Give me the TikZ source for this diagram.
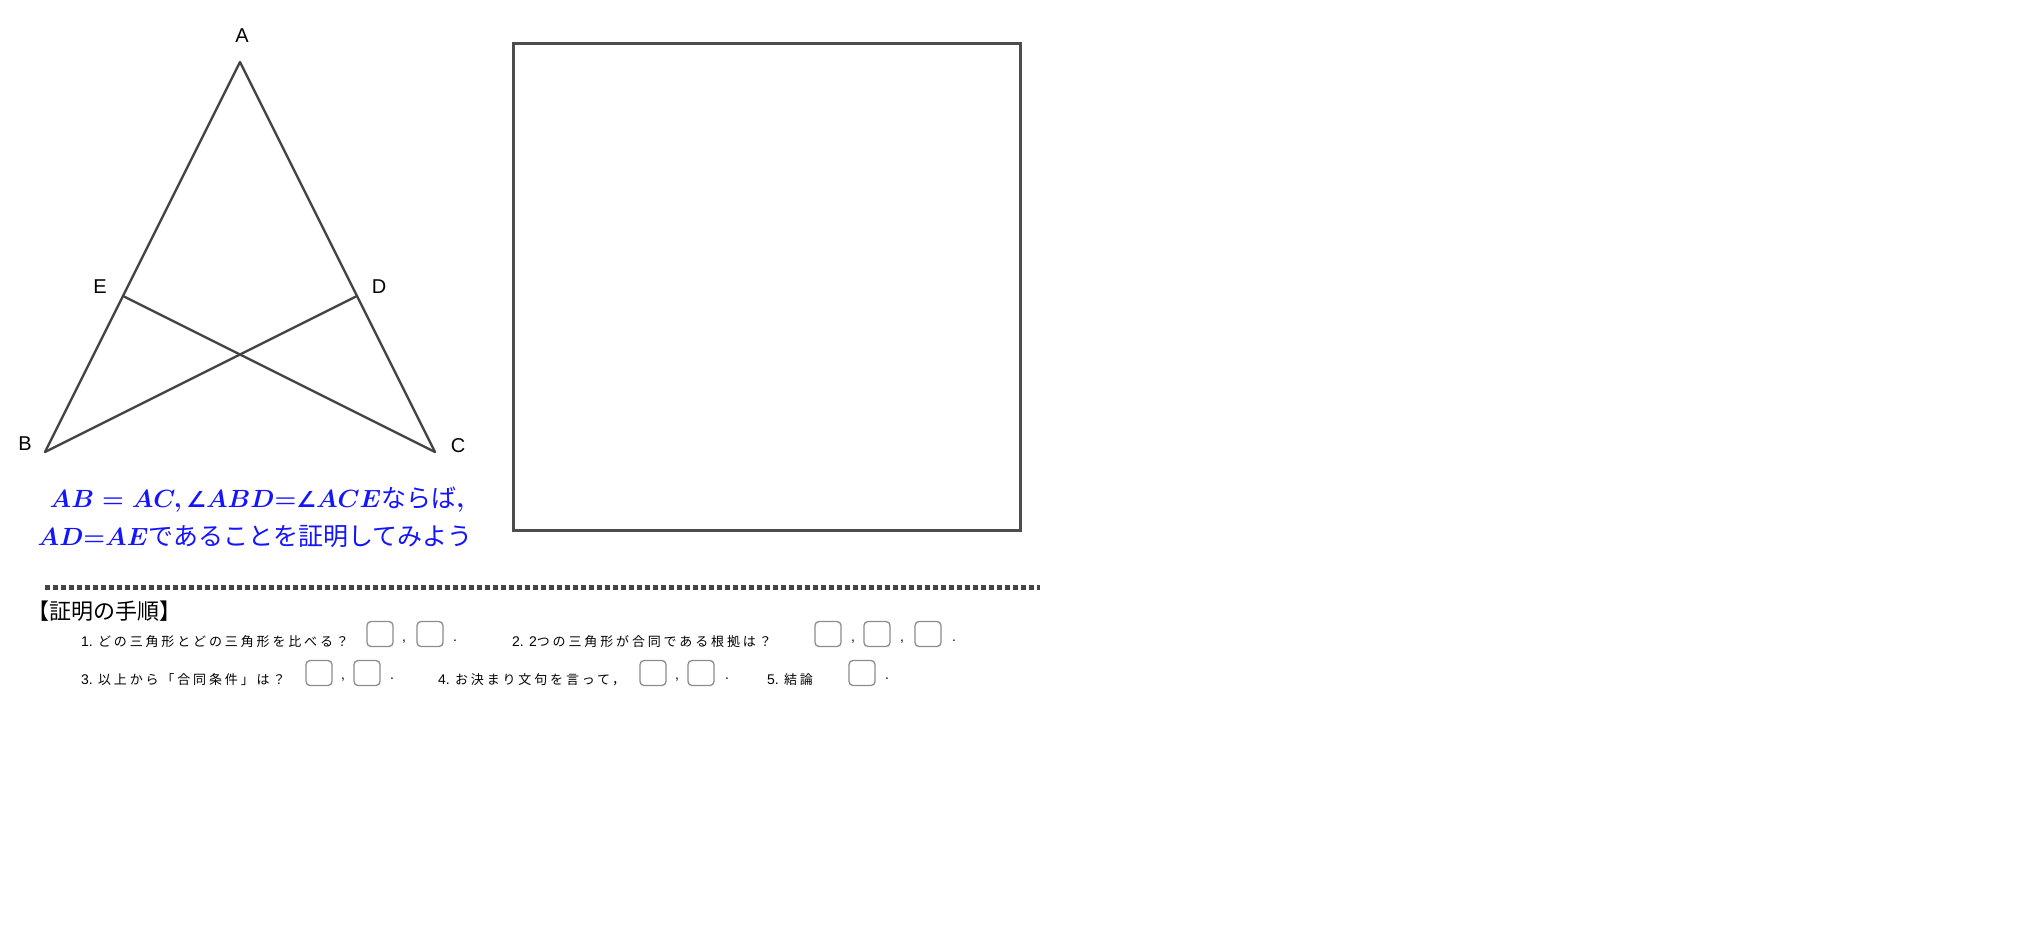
\documentclass[tikz,border=0pt]{standalone}
\usepackage{fontspec}
\usepackage{amsmath}
\setmainfont{Liberation Sans}
\newfontfamily\jpfont{Noto Sans CJK JP}
\newfontfamily\jprow{Noto Sans CJK JP}[LetterSpace=22]
\newfontfamily\symfont{DejaVu Sans}
\newcommand{\angsym}{{\symfont\bfseries ∠}}
\definecolor{probblue}{RGB}{20,20,255}
\definecolor{linegray}{RGB}{68,68,68}
\definecolor{boxgray}{RGB}{140,140,140}

\begin{document}
\begin{tikzpicture}[x=1pt,y=-1pt,
  % figure
  seg/.style={draw=linegray, line width=2.4pt, line join=round, line cap=round},
  ptlabel/.style={font=\fontsize{20}{24}\selectfont, inner sep=0pt},
  frame/.style={draw=linegray!95, line width=3pt},
  goal/.style={text=probblue, anchor=base, inner sep=0pt, font=\fontsize{27}{30}\selectfont},
  % answer sheet
  cutline/.style={draw=linegray, line width=5pt, dash pattern=on 5pt off 3pt},
  rowtext/.style={anchor=base west, inner sep=0pt, font=\fontsize{14}{16}\selectfont},
  ansbox/.style={draw=boxgray, line width=1.3pt, rounded corners=4pt,
    minimum width=26pt, minimum height=25pt, inner sep=0pt}
  ]
  \useasboundingbox (0,0) rectangle (2021,932);

  \coordinate (A) at (240,62);
  \coordinate (B) at (45,452);
  \coordinate (C) at (435,452);
  \coordinate (D) at (357,296);
  \coordinate (E) at (123,296);

  \draw[seg] (B) -- (A) -- (C);
  \draw[seg] (B) -- (D);
  \draw[seg] (C) -- (E);

  \node[ptlabel] (labA) at (242,36) {A};
  \node[ptlabel] (labB) at (25,444) {B};
  \node[ptlabel] (labC) at (458,446) {C};
  \node[ptlabel] (labD) at (379,287) {D};
  \node[ptlabel] (labE) at (100,287) {E};

  \node[goal] (goal1) at (257,507)
    {{\boldmath$AB = AC,$}\,{\fontsize{22}{26}\selectfont\angsym}{\boldmath$ABD{=}$}{\fontsize{22}{26}\selectfont\angsym}{\boldmath$ACE$}{\jpfont\fontsize{25}{28}\selectfont ならば}{\boldmath$,$}};
  \node[goal] (goal2) at (255,545)
    {{\boldmath$AD{=}AE$}{\jpfont\fontsize{25}{28}\selectfont であることを証明してみよう}};

  \draw[frame] (513,43) rectangle (1020,530);

  \draw[cutline] (45,587) -- (1040,587);

  \node[anchor=base west, inner sep=0pt, font=\jpfont\fontsize{22}{24}\selectfont] (heading)
    at (27,619) {【証明の手順】};

  % row 1
  \node[rowtext] (q1) at (81,646) {1. {\jprow\fontsize{13}{16}\selectfont どの三角形とどの三角形を比べる？}};
  \node[ansbox] (a11) at (380,634) {};
  \node[ansbox] (a12) at (430,634) {};
  \node[rowtext] (c11) at (402,641) {,};
  \node[rowtext] (p1) at (453,641) {.};

  \node[rowtext] (q2) at (512,646) {2. 2{\jprow\fontsize{13}{16}\selectfont つの三角形が合同である根拠は？}};
  \node[ansbox] (a21) at (828,634) {};
  \node[ansbox] (a22) at (877,634) {};
  \node[ansbox] (a23) at (928,634) {};
  \node[rowtext] (c21) at (851,641) {,};
  \node[rowtext] (c22) at (900,641) {,};
  \node[rowtext] (p2) at (952,641) {.};

  % row 2
  \node[rowtext] (q3) at (81,684) {3. {\jprow\fontsize{13}{16}\selectfont 以上から「合同条件」は？}};
  \node[ansbox] (a31) at (319,673) {};
  \node[ansbox] (a32) at (367,673) {};
  \node[rowtext] (c31) at (341,679) {,};
  \node[rowtext] (p3) at (390,679) {.};

  \node[rowtext] (q4) at (438,684) {4. {\jprow\fontsize{13}{16}\selectfont お決まり文句を言って，}};
  \node[ansbox] (a41) at (653,673) {};
  \node[ansbox] (a42) at (701,673) {};
  \node[rowtext] (c41) at (675,679) {,};
  \node[rowtext] (p4) at (725,679) {.};

  \node[rowtext] (q5) at (767,684) {5. {\jprow\fontsize{13}{16}\selectfont 結論}};
  \node[ansbox] (a51) at (862,673) {};
  \node[rowtext] (p5) at (885,679) {.};
\end{tikzpicture}
\end{document}
